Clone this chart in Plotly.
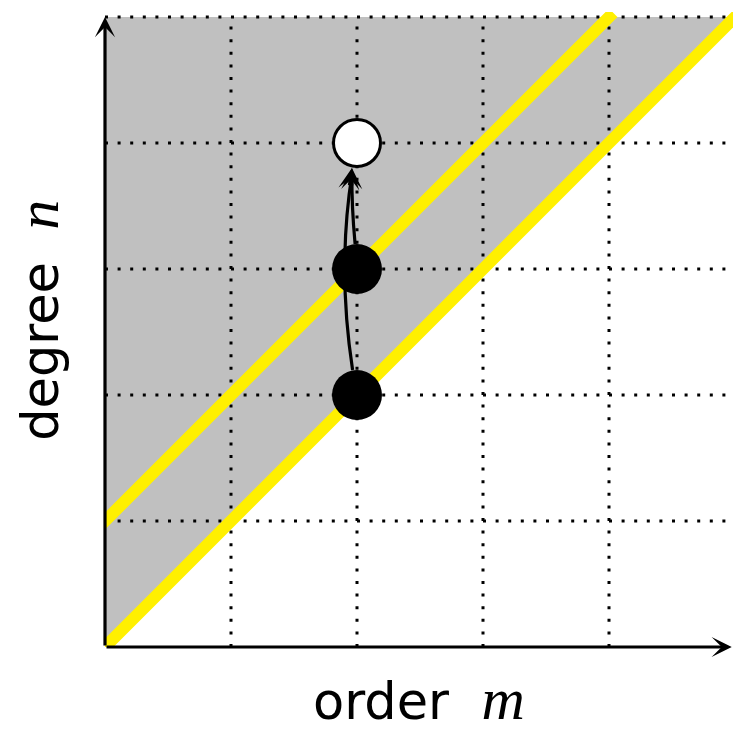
import plotly.graph_objects as go

# ---- data ----
x_max = 628 / 126          # visible extent of the order axis
y_max = 5                  # top of the degree axis
y_view = 5.04              # a little room above the top grid row
grid_vals = [1, 2, 3, 4, 5]
line_offsets = [0, 1]      # yellow lines n = m + k
line_ends = [5, 4]         # order m where each yellow line ends
filled_m = [2, 2]
filled_n = [2, 3]
open_m = [2]
open_n = [4]
arrow_from = [(2, 2), (2, 3)]
arrow_to = [(2, 4), (2, 4)]
arrow_bend = [-0.06, -0.008]   # sideways bulge of each curved arrow (data units)
arrow_start_shift = [-0.035, -0.015]

px_per_unit = 126
node_r = 25 / px_per_unit
YELLOW = "#fff000"
GRAY = "#c0c0c0"
yellow_w = 12
grid_dash = "3px,9.6px"

fig = go.Figure()

# gray region n >= m
fig.add_shape(type="path",
              path=f"M 0,0 L 0,{y_max} L {y_max},{y_max} Z",
              fillcolor=GRAY, line_width=0, layer="below",
              xref="x", yref="y")

# dotted grid (above the gray, below the marks)
for g in grid_vals:
    fig.add_shape(type="line", x0=g, x1=g, y0=0, y1=y_max,
                  line=dict(color="black", width=3, dash=grid_dash),
                  layer="between", xref="x", yref="y")
    fig.add_shape(type="line", x0=0, x1=x_max, y0=g, y1=g,
                  line=dict(color="black", width=3, dash=grid_dash),
                  layer="between", xref="x", yref="y")

# yellow lines with square-ish caps
ext = (yellow_w / 2) / px_per_unit / (2 ** 0.5)
for k, xe in zip(line_offsets, line_ends):
    xs = [0 - ext, xe + ext]
    ys = [x + k for x in xs]
    fig.add_trace(go.Scatter(x=xs, y=ys, mode="lines",
                             line=dict(color=YELLOW, width=yellow_w),
                             cliponaxis=False, hoverinfo="skip",
                             showlegend=False))

# curved arrows
for (m0, n0), (m1, n1), b, s in zip(arrow_from, arrow_to, arrow_bend, arrow_start_shift):
    sx, sy = m0 + s, n0 + node_r
    ex, ey = m1 - 0.04, n1 - node_r
    cx, cy = (sx + ex) / 2 + 2 * b, (sy + ey) / 2
    fig.add_shape(type="path",
                  path=f"M {sx},{sy} Q {cx},{cy} {ex},{ey - 0.05}",
                  line=dict(color="black", width=3.2), layer="above",
                  xref="x", yref="y")
    dx, dy = ex - cx, ey - cy
    L = (dx * dx + dy * dy) ** 0.5
    fig.add_annotation(x=ex, y=ey, ax=ex - 0.15 * dx / L, ay=ey - 0.15 * dy / L,
                       axref="x", ayref="y", xref="x", yref="y",
                       text="", showarrow=True, arrowhead=3,
                       arrowsize=1.1, arrowwidth=3.2, arrowcolor="black")

# nodes
fig.add_trace(go.Scatter(x=filled_m, y=filled_n, mode="markers",
                         marker=dict(size=50, color="black", line_width=0),
                         cliponaxis=False, hoverinfo="skip", showlegend=False))
fig.add_trace(go.Scatter(x=open_m, y=open_n, mode="markers",
                         marker=dict(size=47, color="white",
                                     line=dict(color="black", width=3)),
                         cliponaxis=False, hoverinfo="skip", showlegend=False))

# axes as arrows
fig.add_annotation(x=x_max - 0.01, y=0, ax=0, ay=0, axref="x", ayref="y",
                   xref="x", yref="y", text="", showarrow=True,
                   arrowhead=3, arrowsize=1.05, arrowwidth=3.2, arrowcolor="black")
fig.add_annotation(x=0, y=y_max, ax=0, ay=0, axref="x", ayref="y",
                   xref="x", yref="y", text="", showarrow=True,
                   arrowhead=3, arrowsize=1.05, arrowwidth=3.2, arrowcolor="black")

# axis labels (positions in pixels relative to the plot area)
plot_h = y_view * px_per_unit
mfont = "font-family:'Liberation Serif', 'DejaVu Serif', serif;font-size:60px"
fig.add_annotation(xref="paper", yref="paper", x=0.5, y=-52 / plot_h,
                   text=f"order  <span style=\"{mfont}\"><i>m</i></span>",
                   showarrow=False, xanchor="center", yanchor="middle",
                   font=dict(family="DejaVu Sans", size=51, color="black"))
fig.add_annotation(xref="paper", yref="paper", x=-0.107, y=(327 + 0) / plot_h,
                   text=f"degree  <span style=\"{mfont}\"><i>n</i></span>",
                   showarrow=False, xanchor="center", yanchor="middle",
                   textangle=-90,
                   font=dict(family="DejaVu Sans", size=51, color="black"))

fig.update_xaxes(range=[0, x_max], showgrid=False, zeroline=False,
                 showline=False, showticklabels=False, ticks="")
fig.update_yaxes(range=[0, y_view], showgrid=False, zeroline=False,
                 showline=False, showticklabels=False, ticks="")
fig.update_layout(width=733, height=738,
                  margin=dict(l=105, r=0, t=int(round(738 - 91 - plot_h)), b=91),
                  plot_bgcolor="white", paper_bgcolor="white",
                  showlegend=False)

fig.write_html("out.html")
